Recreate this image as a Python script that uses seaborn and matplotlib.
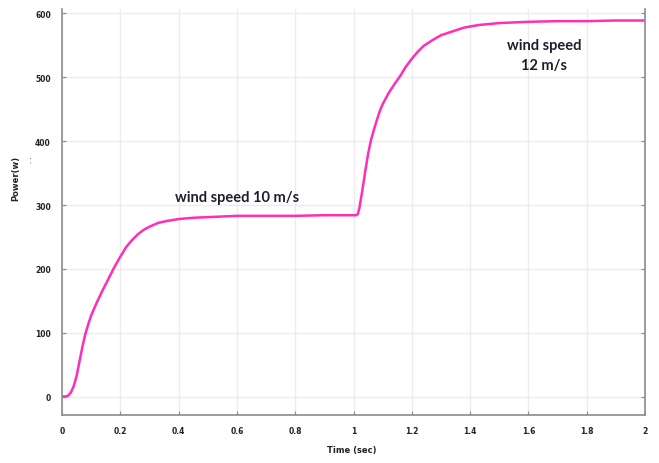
import pandas as pd
import matplotlib
matplotlib.use("Agg")
import matplotlib.pyplot as plt
import seaborn as sns

# Datos (tiempo en s, potencia en W)
tiempo = [0, 0.01, 0.02, 0.03, 0.04, 0.05, 0.06, 0.07, 0.08, 0.09,
          0.1, 0.12, 0.14, 0.16, 0.18, 0.2, 0.22, 0.24, 0.26, 0.28,
          0.3, 0.33, 0.36, 0.4, 0.45, 0.5, 0.6, 0.7, 0.8, 0.9,
          1.0, 1.01, 1.015, 1.02, 1.03, 1.04, 1.05, 1.06, 1.07, 1.08,
          1.09, 1.1, 1.12, 1.14, 1.16, 1.18, 1.2, 1.22, 1.24, 1.27,
          1.3, 1.34, 1.38, 1.43, 1.5, 1.6, 1.7, 1.8, 1.9, 2.0]
potencia = [0, 0, 1, 6, 16, 32, 55, 78, 98, 113,
            127, 148, 167, 185, 203, 219, 234, 245, 254, 261,
            266, 272, 275, 278, 280, 281, 283, 283, 283, 284,
            284, 284, 286, 295, 322, 352, 380, 402, 418, 433,
            447, 458, 475, 489, 502, 517, 529, 540, 549, 558,
            566, 572, 578, 582, 585, 587, 588, 588, 589, 589]

x_ticks = [0, 0.2, 0.4, 0.6, 0.8, 1, 1.2, 1.4, 1.6, 1.8, 2]
x_labels = ['0', '0.2', '0.4', '0.6', '0.8', '1', '1.2', '1.4', '1.6', '1.8', '2']
y_ticks = [0, 100, 200, 300, 400, 500, 600]

df = pd.DataFrame({'t': tiempo, 'p': potencia})

sns.set_style("whitegrid")
plt.rcParams['font.family'] = ['DejaVu Sans']

fig = plt.figure(figsize=(6.59, 4.64), dpi=100)
ax = fig.add_axes([0.0941, 0.1034, 0.8847, 0.875])

sns.lineplot(data=df, x='t', y='p', color='#ff2db8', linewidth=1.8, ax=ax)

ax.set_xlim(0, 2)
ax.set_ylim(-29, 607)
ax.set_xticks(x_ticks)
ax.set_xticklabels(x_labels)
ax.set_yticks(y_ticks)

ax.grid(True, color='#ececec', linewidth=1)
for lado in ['left', 'bottom', 'right']:
    ax.spines[lado].set_visible(True)
    ax.spines[lado].set_color('#8c8c8c')
    ax.spines[lado].set_linewidth(1.2)
ax.spines['top'].set_visible(False)

ax.tick_params(axis='both', direction='in', length=3, color='#8c8c8c',
               labelsize=5.5, labelcolor='#222222', right=True, left=True,
               bottom=True)
ax.tick_params(axis='x', pad=8)
ax.tick_params(axis='y', pad=8)
for lab in ax.get_xticklabels() + ax.get_yticklabels():
    lab.set_fontweight('bold')

ax.set_xlabel('Time (sec)', fontsize=6, fontweight='bold', color='#222222')
ax.xaxis.set_label_coords(0.497, -0.075)
ax.set_ylabel('Power(w)', fontsize=6, fontweight='bold', color='#222222')
ax.yaxis.set_label_coords(-0.072, 0.586)

fig.text(30 / 659, 1 - 160 / 464, '. .', rotation=90, fontsize=5,
         color='#222222', ha='center', va='center')

ax.text(0.60, 312, 'wind speed 10 m/s', fontsize=10.5, fontweight='bold',
        family=['Lato', 'DejaVu Sans'], color='#1e1e2e', ha='center', va='center')
ax.text(1.655, 535, 'wind speed\n12 m/s', fontsize=10.5, fontweight='bold',
        family=['Lato', 'DejaVu Sans'], color='#1e1e2e', ha='center', va='center',
        linespacing=1.5)

fig.savefig('out.png', dpi=100)
